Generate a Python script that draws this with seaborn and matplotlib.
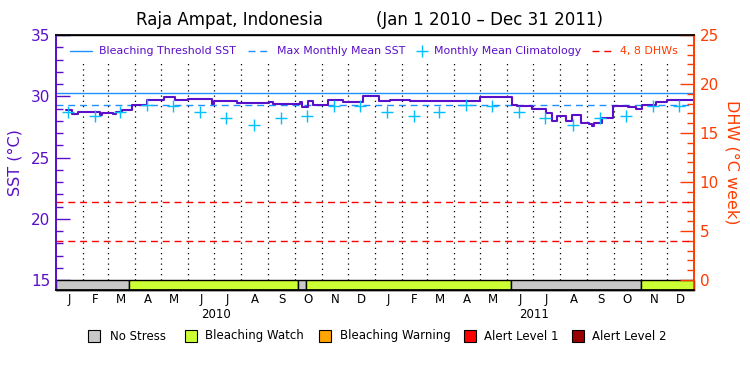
import matplotlib
matplotlib.use('Agg')
import matplotlib.pyplot as plt
import matplotlib.transforms as mtransforms
from matplotlib.lines import Line2D
from matplotlib.patches import Rectangle
from matplotlib.ticker import FixedLocator
import seaborn as sns
import pandas as pd

# ---------------- data ----------------
start_date = '2010-01-01'
end_date = '2012-01-01'

sst_dates = ['2010-01-12', '2010-01-19', '2010-01-26', '2010-02-12', '2010-02-20',
             '2010-02-23', '2010-03-07', '2010-03-11', '2010-03-18', '2010-03-29',
             '2010-04-15', '2010-05-05', '2010-05-17', '2010-06-01', '2010-06-28',
             '2010-07-01', '2010-07-27', '2010-09-02', '2010-09-06', '2010-10-07',
             '2010-10-10', '2010-10-16', '2010-10-22', '2010-11-08', '2010-11-25',
             '2010-12-18', '2011-01-06', '2011-01-18', '2011-02-10', '2011-05-01',
             '2011-06-07', '2011-06-12', '2011-06-30', '2011-07-16', '2011-07-23',
             '2011-07-28', '2011-08-08', '2011-08-14', '2011-08-25', '2011-09-03',
             '2011-09-06', '2011-09-09', '2011-09-18', '2011-09-30', '2011-10-17',
             '2011-10-27', '2011-11-02', '2011-11-19', '2011-12-01', '2011-12-31']
sst_values = [28.88, 28.52, 28.74, 28.69, 28.47,
              28.60, 28.52, 28.69, 28.88, 29.29,
              29.69, 29.91, 29.69, 29.78, 29.37,
              29.64, 29.42, 29.50, 29.40, 29.50,
              29.15, 29.64, 29.29, 29.69, 29.56,
              30.02, 29.64, 29.72, 29.64, 29.96,
              29.29, 29.20, 29.00, 28.66, 28.00,
              28.39, 28.00, 28.47, 27.84, 27.73,
              27.57, 27.80, 28.20, 29.20, 29.15,
              28.93, 29.29, 29.56, 29.72, 29.72]

clim_month_values = [28.69, 28.41, 28.74, 29.29, 29.23, 28.69,
                     28.25, 27.65, 28.25, 28.41, 29.23, 29.18]
clim_years = [2010, 2011]

mmm_sst = 29.27
threshold_sst = 30.26
dhw_levels = [4, 8]

stress_starts = ['2010-01-01', '2010-03-26', '2010-10-05', '2010-10-14', '2011-06-06', '2011-11-01']
stress_ends = ['2010-03-26', '2010-10-05', '2010-10-14', '2011-06-06', '2011-11-01', '2012-01-01']
stress_levels = ['No Stress', 'Bleaching Watch', 'No Stress', 'Bleaching Watch', 'No Stress', 'Bleaching Watch']

level_names = ['No Stress', 'Bleaching Watch', 'Bleaching Warning', 'Alert Level 1', 'Alert Level 2']
level_colors = ['#C8C8C8', '#CCFF33', '#FFA500', '#FF0000', '#990000']

month_letters = ['J', 'F', 'M', 'A', 'M', 'J', 'J', 'A', 'S', 'O', 'N', 'D']
year_labels = ['2010', '2011']

title_place = 'Raja Ampat, Indonesia'
title_period = '(Jan 1 2010 \u2013 Dec 31 2011)'

legend_labels = ['Bleaching Threshold SST', 'Max Monthly Mean SST', 'Monthly Mean Climatology', '4, 8 DHWs']

# ---------------- styles ----------------
PURPLE = '#5A0FC8'
ORANGE_RED = '#FF3C00'
BLUE = '#1E90FF'
CYAN = '#00BFFF'
RED = '#FF0000'
DASH = (0, (5, 3.5))

sns.set_theme(style='white')
plt.rcParams['font.family'] = ['DejaVu Sans']

t0 = pd.Timestamp(start_date)
def to_days(d):
    return (pd.to_datetime(pd.Series(d)) - t0).dt.days.astype(float).values

total_days = float(to_days([end_date])[0])

sst_df = pd.DataFrame({'day': to_days(sst_dates), 'sst': sst_values})

clim_dates = [f'{y}-{m:02d}-15' for y in clim_years for m in range(1, 13)]
clim_df = pd.DataFrame({'day': to_days(clim_dates),
                        'sst': clim_month_values * len(clim_years)})

month_starts = [f'{y}-{m:02d}-01' for y in clim_years for m in range(1, 13)] + [end_date]
ms_days = to_days(month_starts)
mid_days = [(a + b) / 2 for a, b in zip(ms_days[:-1], ms_days[1:])]

# ---------------- figure ----------------
W, H = 750, 375
fig = plt.figure(figsize=(7.5, 3.75), dpi=100)
ax_left, ax_right_px, ax_top, ax_bot = 56, 694, 35, 290
ax = fig.add_axes([ax_left / W, 1 - ax_bot / H, (ax_right_px - ax_left) / W, (ax_bot - ax_top) / H])

def fx(px):
    return px / W
def fy(py):
    return 1 - py / H

px_per_deg = (280 - 35) / 20.0
sst_low = 15 - (ax_bot - 280) / px_per_deg
ax.set_xlim(0, total_days)
ax.set_ylim(sst_low, 35)

# stress bar
color_of = dict(zip(level_names, level_colors))
for s, e, lev in zip(to_days(stress_starts), to_days(stress_ends), stress_levels):
    ax.add_patch(Rectangle((s, sst_low), e - s, 15 - sst_low, facecolor=color_of[lev],
                           edgecolor='black', lw=1.0, zorder=3, clip_on=False))

# dotted month lines
for d in ms_days[1:-1]:
    ax.vlines(d, 15, 32.8, colors='black', linestyles=(0, (1, 3.2)), lw=0.9, zorder=1)

# reference lines
ax.axhline(threshold_sst, color=BLUE, lw=1.0, zorder=2)
ax.axhline(mmm_sst, color=BLUE, lw=1.0, linestyle=DASH, zorder=2)

# SST line and climatology
sns.lineplot(data=sst_df, x='day', y='sst', ax=ax, color=PURPLE, lw=1.5,
             drawstyle='steps-post', estimator=None, zorder=4)
sns.scatterplot(data=clim_df, x='day', y='sst', ax=ax, marker='+', s=85,
                color=CYAN, linewidth=1.0, zorder=5)

ax.set_xlabel('')
ax.set_ylabel('SST (\u00b0C)', color=PURPLE, fontsize=11.5, labelpad=6)
ax.set_yticks([15, 20, 25, 30, 35])
ax.yaxis.set_minor_locator(FixedLocator(list(range(15, 36))))
ax.tick_params(axis='y', which='major', direction='in', length=10, width=1,
               colors=PURPLE, labelsize=11, left=True, pad=4)
ax.tick_params(axis='y', which='minor', direction='in', length=5, width=1,
               colors=PURPLE, left=True)
ax.set_xticks(mid_days)
ax.set_xticklabels(month_letters * len(clim_years))
ax.tick_params(axis='x', length=0, labelsize=8.5, pad=2, colors='black')

for sp in ['top', 'bottom']:
    ax.spines[sp].set_color('black')
    ax.spines[sp].set_linewidth(1)
ax.spines['left'].set_color(PURPLE)
ax.spines['right'].set_color(ORANGE_RED)
ax.grid(False)

# DHW axis
ax2 = ax.twinx()
px_per_dhw = (280 - 35) / 25.0
ax2.set_ylim(-(ax_bot - 280) / px_per_dhw, 25)
for lvl in dhw_levels:
    ax2.axhline(lvl, color=RED, lw=1.0, linestyle=DASH, zorder=2)
ax2.set_yticks([0, 5, 10, 15, 20, 25])
ax2.yaxis.set_minor_locator(FixedLocator(list(range(0, 26))))
ax2.tick_params(axis='y', which='major', direction='in', length=10, width=1,
                colors=ORANGE_RED, labelsize=11, right=True, pad=4)
ax2.tick_params(axis='y', which='minor', direction='in', length=5, width=1,
                colors=ORANGE_RED, right=True)
ax2.set_ylabel('DHW (\u00b0C week)', color=ORANGE_RED, fontsize=11.5, rotation=-90, labelpad=15)
ax2.spines['right'].set_color(ORANGE_RED)
ax2.spines['left'].set_color(PURPLE)
ax2.spines['top'].set_color('black')
ax2.spines['bottom'].set_color('black')
ax2.grid(False)

# top legend (placed item by item)
leg_y = 51
leg_items = [  # (handle start, handle end, text start, colour, style, text colour)
    (70, 92, 99, BLUE, '-', PURPLE),
    (248, 270, 277, BLUE, DASH, PURPLE),
    (422, 422, 434, CYAN, '+', PURPLE),
    (592, 614, 620, RED, DASH, ORANGE_RED),
]
for (h0, h1, tx, col, sty, tcol), lab in zip(leg_items, legend_labels):
    if sty == '+':
        fig.add_artist(Line2D([fx(h0)], [fy(leg_y)], color=col, marker='+', markersize=9,
                              mew=1.0, linestyle='none', transform=fig.transFigure))
    else:
        fig.add_artist(Line2D([fx(h0), fx(h1)], [fy(leg_y), fy(leg_y)], color=col, lw=1.0,
                              linestyle=sty, transform=fig.transFigure))
    fig.text(fx(tx), fy(leg_y), lab, ha='left', va='center', fontsize=7.9, color=tcol)

# year labels
trans = mtransforms.blended_transform_factory(ax.transData, fig.transFigure)
for i, y in enumerate(year_labels):
    ax.text((ms_days[12 * i] + ms_days[12 * i + 12]) / 2, fy(314), y, transform=trans,
            ha='center', va='center', fontsize=8.5, color='black')

# title
fig.text(fx(229), fy(20), title_place, ha='center', va='center', fontsize=12, color='black')
fig.text(fx(490), fy(20), title_period, ha='center', va='center', fontsize=12, color='black')

# stress legend (placed item by item)
box_x = [88, 185, 319, 464, 572]
text_x = [110, 205, 340, 484, 592]
leg2_y = 336
for bx, tx, name, col in zip(box_x, text_x, level_names, level_colors):
    fig.add_artist(Rectangle((fx(bx), fy(leg2_y + 6)), 12 / W, 12 / H, facecolor=col,
                             edgecolor='black', lw=0.8, transform=fig.transFigure))
    fig.text(fx(tx), fy(leg2_y), name, ha='left', va='center', fontsize=8.5, color='black')

fig.savefig('out.png', dpi=100)
